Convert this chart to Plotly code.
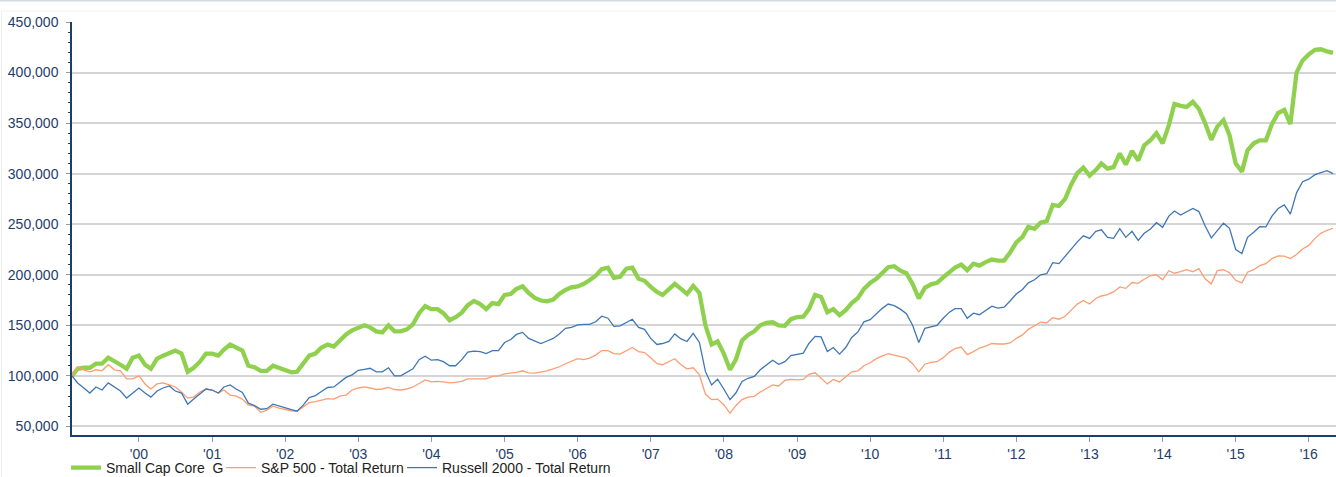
import pandas as pd
import plotly.graph_objects as go

# Monthly growth of a $100,000 investment (values in thousands of $), Feb 1999 .. May 2016
small_cap_core_g_k = [
    100, 107, 108, 108, 112, 112, 118, 115, 111, 107, 118, 120, 111, 107, 117, 120, 122, 125, 122, 104,
    108, 114, 122, 122, 120, 126, 131, 128, 125, 110, 108.5, 105, 105, 110, 108, 106, 103.5, 104, 112.5, 120,
    122, 128, 131, 129, 135, 141, 145, 148, 150, 148, 144, 143, 150, 144, 144, 146, 151, 162, 169, 166,
    166, 162, 155, 158, 162.5, 170, 174, 171, 166, 172, 171, 180, 181, 186, 188.5, 182, 177, 174.5, 173.7, 175.5,
    181, 185, 187.5, 188.5, 191, 194.5, 199, 205.5, 207, 197, 198, 206, 207, 196, 194, 188, 183, 180, 186, 191,
    186, 181, 189, 182, 150, 131, 134, 122, 106, 116, 135, 140.5, 144, 150, 152.5, 153, 150, 149.5, 156, 158,
    158.5, 166, 180, 178, 163, 166, 160, 165, 172, 177, 186, 192, 196, 201, 207.5, 208.5, 204, 201.5, 191, 176.5,
    187, 190.5, 192, 197.5, 202.5, 207, 210, 204.5, 211, 209, 212.5, 215, 214, 214, 222, 232, 237.5, 247.5, 245.5, 251.5,
    253, 269, 268, 275, 289, 300.5, 306, 298, 303.5, 310, 305, 306.5, 320, 309, 322.5, 313, 328, 333, 340, 330,
    348, 369, 367, 366, 371, 364, 350, 333.5, 346.5, 353, 338, 310, 302, 323, 330, 333, 333, 349, 360, 363,
    349, 400, 412, 418, 422.5, 423, 421, 419.5,
]
sp500_tr_k = [
    100, 109, 106, 104, 106, 105, 111, 106, 105, 97, 97, 100, 92, 87, 92, 93, 91, 89, 84, 78,
    79, 84, 87, 86, 83, 86, 81, 80, 77, 71, 70, 64, 66, 70, 68, 66.5, 65.5, 65, 69, 73.5,
    74.5, 76, 77.5, 77, 80, 81, 86, 88, 89, 88, 86.5, 87, 88.5, 86.5, 86, 87, 89, 92.5, 96, 94,
    94.5, 94, 93, 93.5, 94.5, 97, 97, 97.5, 97, 99.5, 100, 102, 102.7, 103.5, 105, 103, 102.7, 103.5, 105, 107,
    109, 112, 114.5, 117, 116, 117.5, 120.5, 125, 125, 122, 121.5, 125, 128, 124, 123, 118, 112, 111, 114, 117,
    111, 107, 108, 101, 82, 76.5, 77, 71.5, 63, 70.5, 76.5, 79, 79.7, 84, 87.5, 91, 90, 95.5, 96.5, 96,
    96.5, 101.5, 103, 98, 92, 96.5, 94, 99, 104, 105, 110, 113, 117, 119.5, 122, 120.5, 119, 117.5, 112, 104,
    111.5, 113.3, 114, 118, 123.5, 127, 128.5, 121, 124, 127.5, 129.5, 132, 131.5, 131.5, 132.5, 137, 140.5, 146, 149.5, 153,
    152.5, 157.5, 156, 159, 165, 171, 174.5, 171, 176.5, 179, 180.3, 183, 188, 186.5, 192.3, 191.5, 195.5, 199, 200, 195,
    204, 201.5, 203, 205, 203, 206, 196, 191, 204, 205, 202, 194.5, 192, 202.5, 205, 209, 211, 216, 218.7, 218.5,
    216, 220, 225.5, 229, 236, 241, 244, 246,
]
russell2000_tr_k = [
    100, 93, 88, 83, 89, 86, 93, 89, 85, 78, 83, 88, 83, 79, 85, 88, 90, 85, 83, 72,
    77, 82, 87, 86, 83, 89, 91, 87, 83.5, 73, 70.5, 67, 67.5, 72, 70, 68.5, 66.5, 65, 71, 78.5,
    80.5, 84.5, 88.5, 89, 94, 98.5, 101, 105.5, 106.5, 107.5, 104, 104, 108, 100, 100, 104, 107, 116, 119.5, 115.5,
    116, 114, 110, 110, 116, 123.5, 124.5, 124, 122, 125, 125, 133, 136, 141, 143, 137, 134.5, 132, 134.5, 137,
    141.5, 147, 148, 150.5, 151, 151, 153.5, 159, 157, 149, 149.5, 152.5, 156, 148, 146, 137, 131, 132, 134, 141.5,
    136.5, 134, 142, 133, 104.4, 91, 96.7, 87, 76.4, 83, 94.5, 97.6, 99.4, 106, 111, 115.5, 111.5, 114, 120, 121,
    122.5, 132, 139, 138.5, 124, 128, 121.5, 128, 138, 143.5, 153.5, 155.5, 161, 166.5, 171, 169.5, 166, 161.5, 150, 133,
    147, 148.5, 150, 157, 163, 166.5, 166.5, 157, 162, 160.5, 165, 169, 167, 168, 174, 181, 185.5, 192, 195, 200,
    201, 212, 211, 218.5, 225, 232.5, 238.5, 236, 243, 244.5, 237, 236, 245.5, 237, 243, 234, 241, 245.2, 251.5, 247,
    258, 263, 259, 262, 265.5, 262.5, 248.5, 236.5, 244, 251, 246, 225, 221, 237, 242, 247.5, 247.3, 258, 265.5, 269,
    260, 281, 292, 294.5, 299, 300.6, 303, 300,
]
months = pd.date_range("1999-02-01", periods=len(small_cap_core_g_k), freq="MS")

tick_years = list(range(2000, 2017))
tick_dates = [f"{y}-01-01" for y in tick_years]
tick_labels = [f"'{y % 100:02d}" for y in tick_years]
y_ticks = [50000, 100000, 150000, 200000, 250000, 300000, 350000, 400000, 450000]

series = [
    ("Small Cap Core\u00a0\u00a0G", small_cap_core_g_k, "#8fd14f", 4.3, "legend"),
    ("S&P 500 - Total Return", sp500_tr_k, "#fc9e72", 1.3, "legend2"),
    ("Russell 2000 - Total Return", russell2000_tr_k, "#3f76b5", 1.3, "legend3"),
]

fig = go.Figure()
for name, vals, color, width, leg in series:
    fig.add_trace(go.Scatter(
        x=months, y=[v * 1000 for v in vals], name=name, mode="lines",
        line=dict(color=color, width=width), legend=leg,
    ))

navy = "#1f3d6b"
PW, PH = 1264, 413
L = 72


def legend_at(px_x):
    return dict(orientation="h", x=(px_x - L) / PW, xanchor="left", y=-17 / PH, yanchor="top",
                font=dict(size=14, color="#222222"), itemwidth=30,
                bgcolor="rgba(0,0,0,0)")


fig.update_layout(
    width=1336, height=477,
    margin=dict(l=L, r=0, t=22, b=42, autoexpand=False),
    paper_bgcolor="white", plot_bgcolor="white",
    font=dict(family="Arial, Liberation Sans, sans-serif", size=14, color="#222222"),
    showlegend=True,
    legend=legend_at(66),
    legend2=legend_at(221),
    legend3=legend_at(402),
    xaxis=dict(
        type="date", range=["1999-02-01", "2016-05-16"],
        tickvals=tick_dates, ticktext=tick_labels,
        showgrid=False, zeroline=False,
        showline=True, linecolor=navy, linewidth=1.5,
        ticks="outside", ticklen=5, tickcolor="#9a9a9a", tickwidth=1,
        tickfont=dict(size=14, color=navy),
    ),
    yaxis=dict(
        range=[41500, 450000], tickvals=y_ticks, tickformat=",",
        showgrid=True, gridcolor="#d5d5d5", gridwidth=2, zeroline=False,
        showline=True, linecolor=navy, linewidth=1.5,
        ticks="outside", ticklen=4, tickcolor="#9a9a9a", tickwidth=1,
        ticklabelstandoff=5,
        tickfont=dict(size=14, color=navy),
        minor=dict(dtick=10000, ticks="outside", ticklen=2, tickcolor=navy, showgrid=False),
    ),
    shapes=[
        dict(type="line", xref="paper", yref="paper", x0=-72 / PW, x1=1.0, y0=1 + 21.5 / PH, y1=1 + 21.5 / PH,
             line=dict(color="#d3d9e2", width=2)),
        dict(type="line", xref="paper", yref="paper", x0=-71 / PW, x1=1.0, y0=1 + 11 / PH, y1=1 + 11 / PH,
             line=dict(color="#efefef", width=1)),
        dict(type="line", xref="paper", yref="paper", x0=-70.5 / PW, x1=-70.5 / PW, y0=1 + 11 / PH, y1=-42 / PH,
             line=dict(color="#efefef", width=1)),
    ],
)

fig.write_html(
    "out.html",
    config={"displayModeBar": False},
    post_script="document.body.style.margin='0px';document.body.style.overflow='hidden';",
)
